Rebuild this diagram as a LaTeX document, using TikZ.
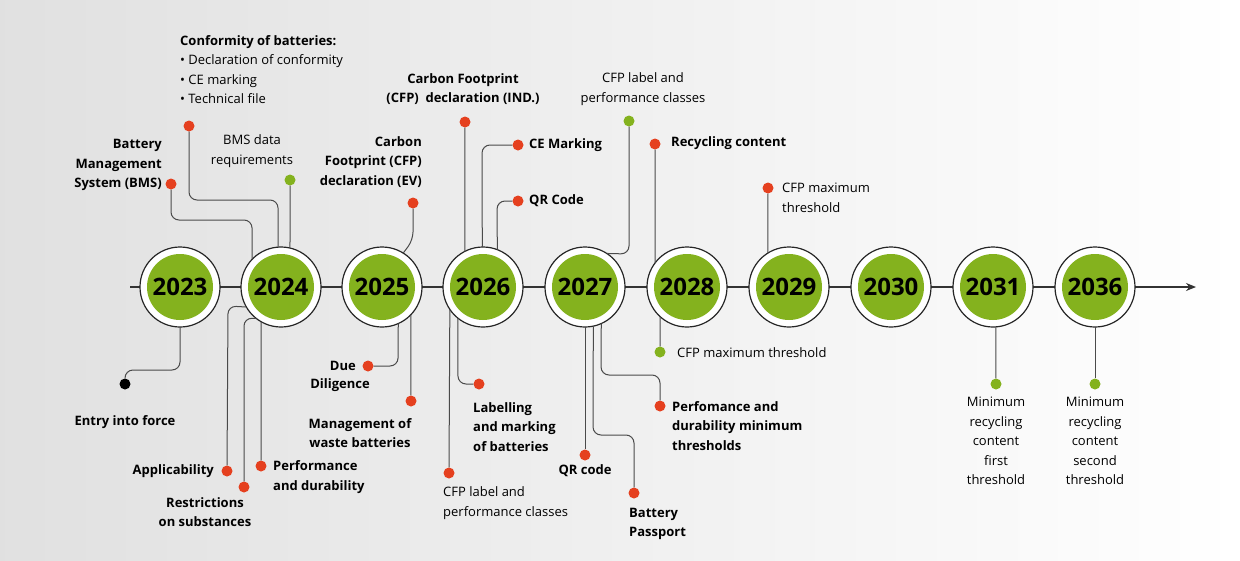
\documentclass[tikz,border=0pt]{standalone}
\usepackage{fontspec}
\setmainfont{Open Sans}
\usetikzlibrary{positioning,arrows.meta}
\definecolor{dotred}{HTML}{E5401F}
\definecolor{leaf}{HTML}{84B21E}
\definecolor{wire}{HTML}{4A4A4A}
\tikzset{yr/.style={circle,draw=black!85,line width=1.2pt,fill=white,minimum size=80pt,inner sep=0pt,outer sep=0pt,
    path picture={\fill[leaf] (path picture bounding box.center) circle (33pt);},
    font=\fontsize{24}{24}\selectfont\bfseries}}
\tikzset{dot/.style={circle,inner sep=0pt,minimum size=11pt,fill=dotred}}
\tikzset{gdot/.style={dot,fill=leaf}}
\tikzset{conn/.style={draw=wire,line width=1pt,rounded corners=8pt}}
\tikzset{l/.style={font=\fontsize{13}{19.5}\selectfont\bfseries,inner sep=0pt}}
\tikzset{m/.style={font=\fontsize{13}{19.5}\selectfont,inner sep=0pt}}

\begin{document}
\begin{tikzpicture}[x=1pt,y=-1pt]
  \useasboundingbox (0,0) rectangle (1240,560);
  \shade[left color=black!12,right color=white] (0,0) rectangle (1240,560);
  % axis
  \coordinate (start) at (130,287);
  \coordinate (tip) at (1196,287);
  \draw[black!80,line width=1.2pt,-{Stealth[length=10pt,width=8pt]}] (start) -- (tip);
  % years
  \foreach \yr/\xx in {2023/180,2024/281,2025/382,2026/483,2027/585,2028/687,2029/789,2030/891,2031/993,2036/1095}
    \node[yr] (y\yr) at (\xx,287) {\yr};

  % 2023
  \node[dot,fill=black] (d-force) at (125,384) {};
  \node[l] at (125,422) {Entry into force};
  \draw[conn] (y2023.-90) -- (180,370) -- (125,370) -- (d-force);

  % 2024 above
  \node[dot] (d-bms) at (171,184) {};
  \node[l,align=right,anchor=east] at (162,165) {Battery\\Management\\System (BMS)};
  \draw[conn] (d-bms) -- (171,220) -- (252,220) -- (y2024.136);
  \node[dot] (d-conf) at (189,126) {};
  \node[m,align=left,anchor=north west] at (180,35) {\textbf{Conformity of batteries:}\\• Declaration of conformity\\• CE marking\\• Technical file};
  \draw[conn] (d-conf) -- (189,200) -- (278,200) -- (y2024.94);
  \node[gdot] (d-bmsdata) at (290,180) {};
  \node[m,align=center] at (252,151) {BMS data\\requirements};
  \draw[conn] (d-bmsdata) -- (y2024.77);
  % 2024 below
  \node[dot] (d-appl) at (227,471) {};
  \node[l,anchor=east] at (214,471) {Applicability};
  \draw[conn] (y2024.-150) -- (228,306) -- (d-appl);
  \node[dot] (d-restr) at (244,487) {};
  \node[l,align=center] at (205,512) {Restrictions\\on substances};
  \draw[conn] (y2024.-128) -- (244,318) -- (d-restr);
  \node[dot] (d-perf) at (261,466) {};
  \node[l,align=left,anchor=west] at (273,477) {Performance\\and durability};
  \draw[conn] (y2024.-120) -- (d-perf);

  % 2025
  \node[dot] (d-cfpev) at (413,203) {};
  \node[l,align=right,anchor=east] at (422,162) {Carbon\\Footprint (CFP)\\declaration (EV)};
  \draw[conn] (d-cfpev) -- (413,240) -- (y2025.58);
  \node[dot] (d-due) at (368,366) {};
  \node[l,anchor=east] at (356,366) {Due};
  \node[l] at (340,385) {Diligence};
  \draw[conn] (y2025.-66) -- (398,366) -- (d-due);
  \node[dot] (d-waste) at (411,401) {};
  \node[l,align=center] at (360,433) {Management of\\waste batteries};
  \draw[conn] (y2025.-44) -- (d-waste);

  % 2026
  \node[dot] (d-cfpind) at (465,122) {};
  \node[l,align=center] at (463,89) {Carbon Footprint\\(CFP)\ \ declaration (IND.)};
  \draw[conn] (d-cfpind) -- (y2026.117);
  \node[dot] (d-ce) at (518,145) {};
  \node[l,anchor=west] at (529,145) {CE Marking};
  \draw[conn] (y2026.91) -- (482,145) -- (d-ce);
  \node[dot] (d-qr) at (518,201) {};
  \node[l,anchor=west] at (529,201) {QR Code};
  \draw[conn] (y2026.69) -- (497,201) -- (d-qr);
  \node[dot] (d-cfplab) at (449,473) {};
  \node[m,align=left,anchor=west] at (443,503) {CFP label and\\performance classes};
  \draw[conn] (y2026.-146) -- (d-cfplab);
  \node[dot] (d-label) at (479,384) {};
  \node[l,align=left,anchor=west] at (473,427) {Labelling\\and marking\\of batteries};
  \draw[conn] (y2026.-129) -- (458,384) -- (d-label);

  % 2027
  \node[gdot] (d-cfpclass) at (629,121) {};
  \node[m,align=center] at (643,89) {CFP label and\\performance classes};
  \draw[conn] (d-cfpclass) -- (629,254) -- (y2027.57);
  \node[dot] (d-qrc) at (585,455) {};
  \node[l] at (585,471) {QR code};
  \draw[conn] (y2027.-90) -- (d-qrc);
  \node[dot] (d-pass) at (634,493) {};
  \node[l,align=left,anchor=west] at (629,524) {Battery\\Passport};
  \draw[conn] (y2027.-78) -- (593,435) -- (634,435) -- (d-pass);
  \node[dot] (d-perfmin) at (660,406) {};
  \node[l,align=left,anchor=west] at (672,426) {Perfomance and\\durability minimum\\thresholds};
  \draw[conn] (y2027.-66) -- (601,375) -- (660,375) -- (d-perfmin);

  % 2028
  \node[dot] (d-recyc) at (655,144) {};
  \node[l,anchor=west] at (671,143) {Recycling content};
  \draw[conn] (d-recyc) -- (y2028.143);
  \node[gdot] (d-cfpmax) at (660,352) {};
  \node[m,anchor=west] at (677,353) {CFP maximum threshold};
  \draw[conn] (y2028.-132) -- (d-cfpmax);

  % 2029
  \node[dot] (d-cfpthr) at (768,188) {};
  \node[m,align=left,anchor=west] at (782,198) {CFP maximum\\threshold};
  \draw[conn] (d-cfpthr) -- (y2029.122);

  % 2031, 2036
  \node[gdot] (d-first) at (996,384) {};
  \node[m,align=center,anchor=north] at (996,397) {Minimum\\recycling\\content\\first\\threshold};
  \draw[conn] (y2031.-86) -- (d-first);
  \node[gdot] (d-second) at (1095,384) {};
  \node[m,align=center,anchor=north] at (1095,397) {Minimum\\recycling\\content\\second\\threshold};
  \draw[conn] (y2036.-90) -- (d-second);
\end{tikzpicture}
\end{document}
